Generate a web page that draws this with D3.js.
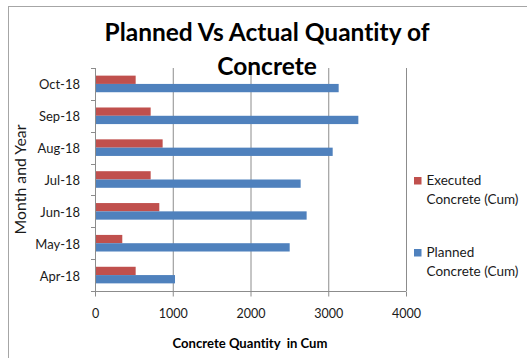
<!DOCTYPE html>
<html><head><meta charset="utf-8">
<script src="https://cdn.jsdelivr.net/npm/d3@7"></script>
<style>body{margin:0;background:#fff}svg{display:block}text{font-variant-ligatures:none;font-feature-settings:"liga" 0}</style>
</head><body><svg id="c" width="527" height="358"></svg>
<script>
const categories = ["Apr-18","May-18","Jun-18","Jul-18","Aug-18","Sep-18","Oct-18"];
const executed = [523, 351, 827, 716, 870, 716, 523];
const planned  = [1029, 2504, 2722, 2645, 3057, 3387, 3134];
const seriesNames = ["Executed Concrete (Cum)", "Planned Concrete (Cum)"];
const xTicks = [0, 1000, 2000, 3000, 4000];
const titleLines = ["Planned Vs Actual Quantity of", "Concrete"];
const xTitle = "Concrete Quantity  in Cum";
const yTitle = "Month and Year";

const colors = ["#C0504D", "#4F81BD"];
const FONT = "Lato, 'Open Sans', sans-serif";
const svg = d3.select("#c");

function fit(sel, target) {
  const w = sel.node().getComputedTextLength();
  const fs = parseFloat(sel.attr("font-size"));
  sel.attr("font-size", (fs * target / w).toFixed(2));
}

// chart border
svg.append("rect").attr("x", 8.5).attr("y", 6.5).attr("width", 600).attr("height", 400)
  .attr("fill", "#fff").attr("stroke", "#a6a6a6").attr("stroke-width", 1);

const pL = 95, pR = 406, pT = 68, pB = 291;
const x = d3.scaleLinear().domain([0, 4000]).range([pL, pR]);
const y = d3.scaleBand().domain(categories.slice().reverse()).range([pT, pB]).padding(0);
const sub = d3.scaleBand().domain(seriesNames).range([0, y.bandwidth()]).paddingInner(0).paddingOuter(0.92);

// gridlines
svg.append("g").selectAll("line").data(xTicks.slice(1)).join("line")
  .attr("x1", d => x(d) + 0.5).attr("x2", d => x(d) + 0.5)
  .attr("y1", pT).attr("y2", pB)
  .attr("stroke", "#8c8c8c").attr("stroke-width", 1);

// bars
const data = categories.map((c, i) => ({c, vals: [executed[i], planned[i]]}));
const g = svg.append("g");
data.forEach(d => {
  d.vals.forEach((v, k) => {
    g.append("rect")
      .attr("x", x(0)).attr("y", y(d.c) + sub(seriesNames[k]))
      .attr("width", x(v) - x(0)).attr("height", sub.bandwidth())
      .attr("fill", colors[k]);
  });
});

// left axis line and ticks at band boundaries
const bounds = categories.map(c => y(c)).concat([pB]);
svg.append("line").attr("x1", pL + 0.5).attr("x2", pL + 0.5).attr("y1", pT).attr("y2", pB)
  .attr("stroke", "#8c8c8c");
svg.append("g").selectAll("line").data(bounds).join("line")
  .attr("x1", pL - 4).attr("x2", pL + 0.5)
  .attr("y1", d => Math.round(d) + 0.5).attr("y2", d => Math.round(d) + 0.5)
  .attr("stroke", "#8c8c8c");

// y labels
const yl = svg.append("g").selectAll("text").data(categories).join("text")
  .attr("x", 80).attr("y", d => y(d) + y.bandwidth() / 2 + 1)
  .attr("dy", "0.35em").attr("text-anchor", "end")
  .attr("font-family", FONT).attr("font-size", 13).attr("fill", "#1a1a1a")
  .text(d => d);
{
  const n = yl.filter(d => d === "Oct-18");
  const w = n.node().getComputedTextLength();
  yl.attr("font-size", (13 * 41 / w).toFixed(2));
}

// x axis
const xa = svg.append("g").attr("transform", `translate(0,${pB + 0.5})`)
  .call(d3.axisBottom(x).tickValues(xTicks).tickSize(5).tickPadding(13).tickFormat(d3.format("d")));
xa.select(".domain").attr("stroke", "#8c8c8c").attr("d", `M${pL},0H${pR}`);
xa.selectAll(".tick line").attr("stroke", "#8c8c8c");
xa.selectAll(".tick text").attr("font-family", FONT).attr("font-size", 12.5).attr("fill", "#1a1a1a");
{
  const n = xa.selectAll(".tick text").filter(d => d === 1000);
  const w = n.node().getComputedTextLength();
  xa.selectAll(".tick text").attr("font-size", (12.5 * 29 / w).toFixed(2));
}

// title
const t1 = svg.append("text").attr("x", 267).attr("y", 40.5).attr("text-anchor", "middle")
  .attr("font-family", FONT).attr("font-weight", "bold").attr("font-size", 24).attr("fill", "#000")
  .text(titleLines[0]);
fit(t1, 325);
svg.append("text").attr("x", 267).attr("y", 75).attr("text-anchor", "middle")
  .attr("font-family", FONT).attr("font-weight", "bold").attr("font-size", t1.attr("font-size")).attr("fill", "#000")
  .text(titleLines[1]);

// x title
const xt = svg.append("text").attr("x", 250).attr("y", 347.5).attr("text-anchor", "middle")
  .attr("font-family", FONT).attr("font-weight", "bold").attr("font-size", 12).attr("fill", "#000")
  .style("white-space", "pre").text(xTitle);
fit(xt, 155);

// y title
const yt = svg.append("text").attr("transform", `translate(26,${(pT + pB) / 2}) rotate(-90)`)
  .attr("text-anchor", "middle")
  .attr("font-family", FONT).attr("font-size", 14).attr("fill", "#1a1a1a")
  .text(yTitle);
fit(yt, 110);

// legend
const legTop = [177, 249];
const lg = svg.append("g");
let lfs = 13;
seriesNames.forEach((s, k) => {
  const parts = [s.split(" ")[0], s.split(" ").slice(1).join(" ")];
  lg.append("rect").attr("x", 414).attr("y", legTop[k]).attr("width", 7.5).attr("height", 7.5).attr("fill", colors[k]);
  parts.forEach((p, j) => {
    lg.append("text").attr("class", "lt" + j).attr("x", 426.5).attr("y", legTop[k] + 8 + j * 18.5)
      .attr("font-family", FONT).attr("font-size", lfs).attr("fill", "#1a1a1a").text(p);
  });
});
{
  const n = lg.select(".lt1");
  const w = n.node().getComputedTextLength();
  lg.selectAll("text").attr("font-size", (lfs * 92 / w).toFixed(2));
}
</script></body></html>
